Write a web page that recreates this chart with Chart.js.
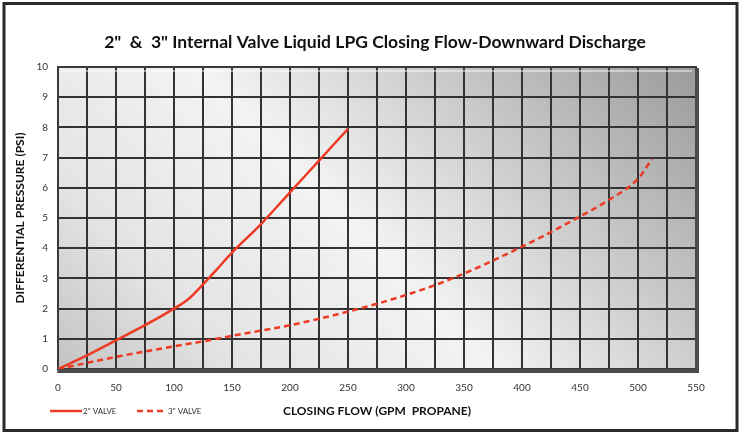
<!DOCTYPE html>
<html><head><meta charset="utf-8">
<script src="https://cdn.jsdelivr.net/npm/chart.js@4/dist/chart.umd.min.js"></script>
<style>html,body{margin:0;padding:0;background:#fff}#wrap{width:741px;height:434px;position:relative}</style>
</head><body><div id="wrap"><canvas id="c" width="741" height="434"></canvas></div>
<script>
// ---- data ----
const flow2 = [0, 25, 50, 75, 100, 112, 125, 137, 150, 175, 200, 225, 250];
const psi2  = [0, 0.45, 0.95, 1.45, 2.0, 2.3, 2.8, 3.3, 3.85, 4.8, 5.85, 6.9, 7.95];
const flow3 = [0, 50, 100, 130, 150, 200, 250, 300, 340, 400, 450, 475, 500, 512];
const psi3  = [0, 0.4, 0.75, 0.95, 1.1, 1.45, 1.9, 2.45, 3.0, 4.05, 5.05, 5.6, 6.3, 6.95];
const xTickLabels = [0, 50, 100, 150, 200, 250, 300, 350, 400, 450, 500, 550];
const yTickLabels = [0, 1, 2, 3, 4, 5, 6, 7, 8, 9, 10];
const seriesNames = ['2" VALVE', '3" VALVE'];
const titleText = '2"  &  3" Internal Valve Liquid LPG Closing Flow-Downward Discharge';

const RED = '#ec3a24';

const decor = {
  id: 'decor',
  beforeDraw(chart) {
    const {ctx, chartArea: a} = chart;
    ctx.save();
    ctx.fillStyle = '#fff';
    ctx.fillRect(0, 0, chart.width, chart.height);
    const g = ctx.createLinearGradient(a.right, a.top - 60, a.left + 120, a.bottom + 140);
    g.addColorStop(0, '#909090');
    g.addColorStop(0.55, '#f3f3f3');
    g.addColorStop(0.8, '#e4e4e4');
    g.addColorStop(1, '#c0c0c0');
    ctx.fillStyle = g;
    ctx.fillRect(a.left, a.top, a.right - a.left, a.bottom - a.top);
    ctx.restore();
  },
  beforeDatasetsDraw(chart) {
    const {ctx, chartArea: a} = chart;
    ctx.save();
    ctx.strokeStyle = 'rgba(255,255,255,0.45)';
    ctx.lineWidth = 2;
    ctx.beginPath(); ctx.moveTo(a.left + 3, a.top + 4); ctx.lineTo(a.right - 4, a.top + 4); ctx.stroke();
    ctx.strokeStyle = '#3a3a3a';
    ctx.lineWidth = 2;
    ctx.strokeRect(a.left, a.top, a.right - a.left, a.bottom - a.top);
    ctx.strokeStyle = '#4a4a4a';
    ctx.lineWidth = 4;
    ctx.beginPath();
    ctx.moveTo(a.right + 1, a.top + 1); ctx.lineTo(a.right + 1, a.bottom + 2); ctx.lineTo(a.left, a.bottom + 2);
    ctx.stroke();
    ctx.restore();
  },
  afterDraw(chart) {
    const {ctx} = chart;
    ctx.save();
    ctx.strokeStyle = '#2a2a2a';
    ctx.lineWidth = 3;
    ctx.strokeRect(4, 3.5, 733, 427);
    const y = 411;
    ctx.strokeStyle = RED;
    ctx.lineWidth = 2.5;
    ctx.setLineDash([]);
    ctx.beginPath(); ctx.moveTo(50, y); ctx.lineTo(82, y); ctx.stroke();
    ctx.setLineDash([6, 4]);
    ctx.beginPath(); ctx.moveTo(137, y); ctx.lineTo(165, y); ctx.stroke();
    ctx.setLineDash([]);
    ctx.fillStyle = '#333';
    ctx.font = '8px Lato';
    ctx.textBaseline = 'middle';
    ctx.textAlign = 'left';
    ctx.fillText(seriesNames[0], 83, y);
    ctx.fillText(seriesNames[1], 168, y);
    ctx.restore();
  }
};

const toPts = (xs, ys) => xs.map((x, i) => ({x, y: ys[i]}));

new Chart(document.getElementById('c'), {
  type: 'line',
  data: {
    datasets: [
      { label: seriesNames[0], data: toPts(flow2, psi2), borderColor: RED, borderWidth: 2.5,
        pointRadius: 0, cubicInterpolationMode: 'monotone', fill: false },
      { label: seriesNames[1], data: toPts(flow3, psi3), borderColor: RED, borderWidth: 2.5,
        borderDash: [6, 4], pointRadius: 0, cubicInterpolationMode: 'monotone', fill: false }
    ]
  },
  options: {
    responsive: false,
    animation: false,
    devicePixelRatio: 1,
    layout: { padding: { left: 9, right: 0, top: 0, bottom: 0 } },
    plugins: {
      legend: { display: false },
      tooltip: { enabled: false },
      title: {
        display: true, text: titleText, color: '#111',
        font: { family: 'Lato', size: 17.5, weight: 'bold' },
        padding: { top: 32, bottom: 14 }
      }
    },
    scales: {
      x: {
        type: 'linear', min: 0, max: 550,
        afterFit(s) { s.height = 65; },
        ticks: { stepSize: 25, autoSkip: false, maxRotation: 0, padding: 9, color: '#333',
          font: { family: 'Lato', size: 10 },
          callback: v => xTickLabels.includes(v) ? String(v) : '' },
        grid: { color: '#333', lineWidth: 2, tickLength: 4, tickColor: '#777' },
        border: { display: false },
        title: { display: true, text: 'CLOSING FLOW (GPM  PROPANE)', color: '#111',
          font: { family: 'Lato', size: 12, weight: 'bold' }, padding: { top: 0, bottom: 16 } }
      },
      y: {
        type: 'linear', min: 0, max: 10,
        afterFit(s) { s.width = 49; },
        ticks: { stepSize: 1, padding: 10, color: '#333', font: { family: 'Lato', size: 10 },
          callback: v => yTickLabels.includes(v) ? String(v) : '' },
        grid: { color: '#333', lineWidth: 2, drawTicks: false },
        border: { display: false },
        title: { display: true, text: 'DIFFERENTIAL PRESSURE (PSI)', color: '#111',
          font: { family: 'Lato', size: 12, weight: 'bold' }, padding: { top: 4, bottom: 0 } }
      },
      y2: {
        type: 'linear', position: 'right', min: 0, max: 10,
        afterFit(s) { s.width = 45; },
        ticks: { display: false }, grid: { display: false }, border: { display: false }
      }
    }
  },
  plugins: [decor]
});
</script>
</body></html>
